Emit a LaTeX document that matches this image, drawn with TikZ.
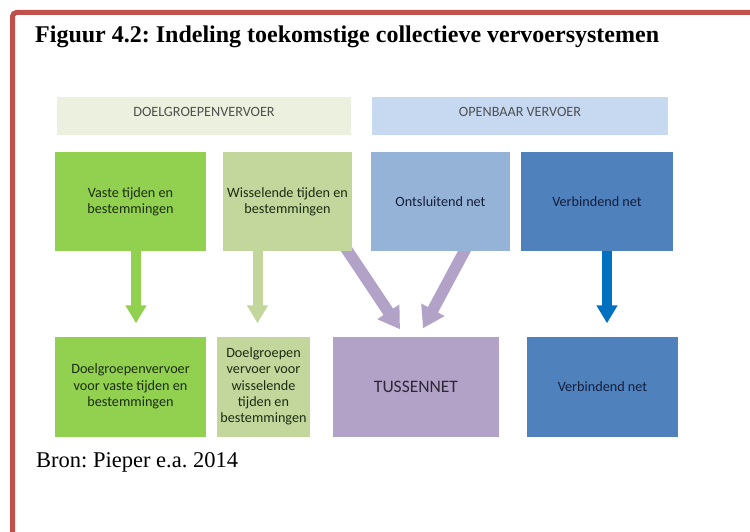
\documentclass[tikz,border=0pt]{standalone}
\usepackage{fontspec}
\setmainfont{Liberation Serif}
\newfontfamily\calibri{Carlito}
\usetikzlibrary{arrows.meta,backgrounds,calc}
\frenchspacing
\definecolor{framered}{RGB}{192,80,77}
\definecolor{dvgreen}{RGB}{146,208,80}
\definecolor{dvlight}{RGB}{195,214,155}
\definecolor{ovlight}{RGB}{149,179,215}
\definecolor{ovblue}{RGB}{79,129,189}
\definecolor{tnpurple}{RGB}{178,162,199}
\definecolor{arrowblue}{RGB}{0,112,192}
\definecolor{headgreen}{RGB}{235,241,222}
\definecolor{headblue}{RGB}{198,217,241}
\definecolor{headtext}{RGB}{80,80,80}
\definecolor{greentext}{RGB}{28,45,18}
\definecolor{bluetext}{RGB}{20,30,58}
\definecolor{purpletext}{RGB}{44,40,54}
\tikzset{
  frame/.style={draw=framered, line width=5pt, rounded corners=4pt},
  box/.style={
    draw=none,
    align=center,
    inner sep=2pt,
    font=\calibri\fontsize{14.2}{16.3}\selectfont
  },
  headbox/.style={box, minimum height=38pt, text=headtext,
    text height=9pt, text depth=8pt},
  greenbox/.style={box, fill=dvgreen, text=greentext},
  lightbox/.style={box, fill=dvlight, text=greentext},
  skybox/.style={box, fill=ovlight, text=bluetext},
  bluebox/.style={box, fill=ovblue, text=bluetext},
  purplebox/.style={box, fill=tnpurple, text=purpletext},
  blockarrow/.style={-{Triangle[width=20pt,length=18pt]}, line width=10pt},
  slantarrow/.style={-{Triangle[width=25pt,length=21pt]}, line width=11.5pt, draw=tnpurple},
  titletext/.style={font=\fontsize{24}{28}\selectfont\bfseries, inner sep=0pt},
  brontext/.style={font=\fontsize{22.5}{26}\selectfont, inner sep=0pt}
}

\begin{document}
\begin{tikzpicture}[x=1pt,y=-1pt]
  \useasboundingbox (0,0) rectangle (750,532);
  \draw[frame] (12.5,532) -- (12.5,12.5) -- (750,12.5);

  \node[titletext,anchor=base west] (title) at (35,43) {Figuur 4.2: Indeling toekomstige collectieve vervoersystemen};

  % Headers
  \node[headbox,fill=headgreen,minimum width=294pt] (hdoel) at (204,116) {DOELGROEPENVERVOER};
  \node[headbox,fill=headblue,minimum width=296pt] (hov) at (520,116) {OPENBAAR VERVOER};

  % Top row
  \node[greenbox,minimum width=151pt,minimum height=99pt] (vaste) at (130.5,201.5) {Vaste tijden en\\bestemmingen};
  \node[lightbox,minimum width=129pt,minimum height=99pt] (wissel) at (287.5,201.5) {Wisselende tijden en\\bestemmingen};
  \node[skybox,minimum width=139pt,minimum height=99pt] (ontsl) at (440.5,201.5) {Ontsluitend net};
  \node[bluebox,minimum width=152pt,minimum height=99pt] (verb) at (597,201.5) {Verbindend net};

  % Bottom row
  \node[greenbox,minimum width=151pt,minimum height=100pt] (doelvast) at (130.5,386.5) {Doelgroepenvervoer\\voor vaste tijden en\\bestemmingen};
  \node[lightbox,minimum width=93pt,minimum height=100pt] (doelwissel) at (263.5,386.5) {Doelgroepen\\vervoer voor\\wisselende\\tijden en\\bestemmingen};
  \node[purplebox,minimum width=166pt,minimum height=100pt,font=\calibri\fontsize{17.5}{20}\selectfont] (tussen) at (416,386.5) {TUSSENNET};
  \node[bluebox,minimum width=151pt,minimum height=100pt] (verbnet) at (602.5,386.5) {Verbindend net};

  \node[brontext,anchor=base west] (bron) at (36,467) {Bron: Pieper e.a. 2014};

  % Arrows
  \begin{scope}[on background layer]
    \draw[blockarrow,draw=dvgreen,shorten >=13pt] ($(vaste.south)+(5.5,-4)$) -- ($(vaste.south |- doelvast.north)+(5.5,0)$);
    \draw[blockarrow,draw=dvlight,shorten >=13pt] ($(wissel.south)+(-30,-4)$) -- ($(wissel.south |- doelwissel.north)+(-30,0)$);
    \draw[slantarrow] ($(wissel.south east)+(-7,-4)$) -- ($(tussen.north)+(-16,-7)$);
    \draw[slantarrow] ($(ontsl.south)+(26,-4)$) -- ($(tussen.north)+(7,-8)$);
    \draw[blockarrow,draw=arrowblue,shorten >=13pt] ($(verb.south)+(10,-4)$) -- ($(verb.south |- verbnet.north)+(10,0)$);
  \end{scope}
\end{tikzpicture}
\end{document}
